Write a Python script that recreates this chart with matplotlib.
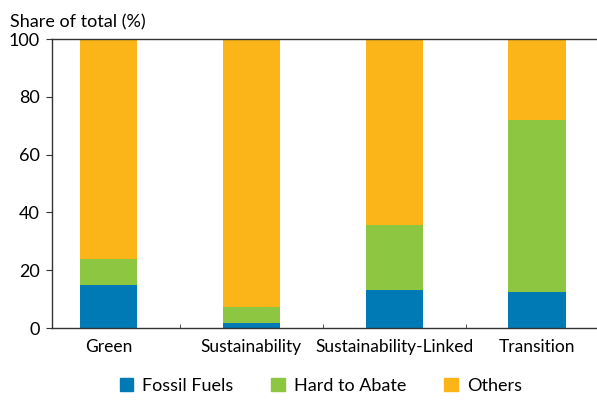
import numpy as np
import matplotlib.pyplot as plt
from matplotlib.patches import Patch

plt.rcParams['font.family'] = ['Lato', 'DejaVu Sans']

# data
categories = ['Green', 'Sustainability', 'Sustainability-Linked', 'Transition']
fossil = [15.0, 1.8, 13.3, 12.5]
hard = [9.0, 5.5, 22.3, 59.5]
others = [76.0, 92.7, 64.4, 28.0]

c_fossil = '#007ab5'
c_hard = '#8dc640'
c_others = '#fbb518'

fig = plt.figure(figsize=(5.97, 4.01), dpi=100)
ax = fig.add_axes([0.0871, 0.182, 0.9129, 0.7207])

x = np.arange(len(categories))
w = 0.4
fossil = np.array(fossil)
hard = np.array(hard)
others = np.array(others)
ax.bar(x, fossil, w, color=c_fossil, label='Fossil Fuels')
ax.bar(x, hard, w, bottom=fossil, color=c_hard, label='Hard to Abate')
ax.bar(x, others, w, bottom=fossil + hard, color=c_others, label='Others')

ax.set_xlim(-0.395, 3.42)
ax.set_ylim(0, 100)
ax.set_yticks([0, 20, 40, 60, 80, 100])
ax.tick_params(axis='y', direction='out', length=4, labelsize=13, pad=5, color='#333333')
ax.set_xticks(x)
ax.set_xticklabels(categories, fontsize=12.5)
ax.tick_params(axis='x', which='major', length=0, pad=8)
ax.set_xticks([0.5, 1.5, 2.5], minor=True)
ax.tick_params(axis='x', which='minor', direction='in', length=3, color='#333333')

for s in ['left', 'bottom', 'top']:
    ax.spines[s].set_color('#333333')
    ax.spines[s].set_linewidth(1.0)
ax.spines['right'].set_visible(False)

fig.text(0.017, 0.945, 'Share of total (%)', fontsize=13, ha='left', va='center')

handles = [Patch(color=c_fossil, label='Fossil Fuels'),
           Patch(color=c_hard, label='Hard to Abate'),
           Patch(color=c_others, label='Others')]
fig.legend(handles=handles, loc='center', bbox_to_anchor=(0.537, 0.037), ncol=3,
           frameon=False, fontsize=13, handlelength=0.75, handleheight=0.75,
           handletextpad=0.5, columnspacing=2.1)

plt.savefig('out.png', dpi=100)
